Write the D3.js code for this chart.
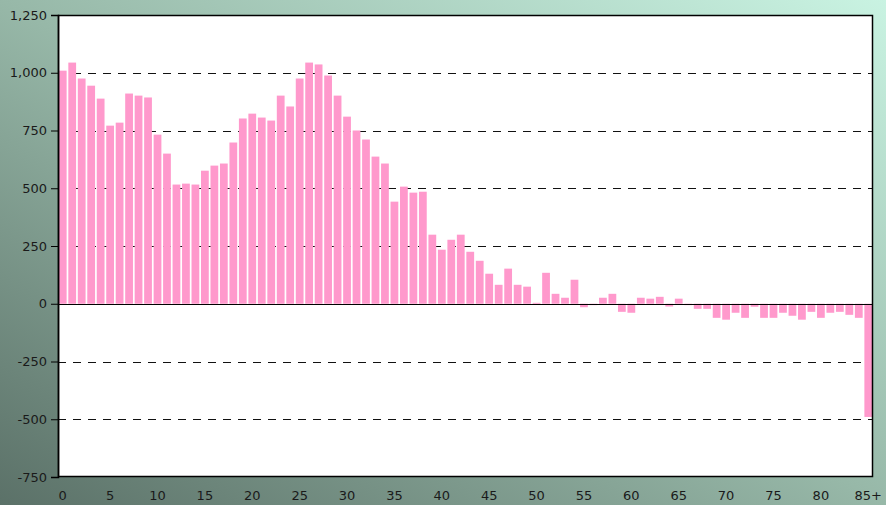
<!DOCTYPE html>
<html>
<head>
<meta charset="utf-8">
<script src="https://cdn.jsdelivr.net/npm/d3@7"></script>
<style>
  html, body { margin: 0; padding: 0; }
  body { width: 886px; height: 505px; overflow: hidden; }
  svg { display: block; }
</style>
</head>
<body>
<svg id="chart" width="886" height="505"></svg>
<script>
const categories = Array.from({length: 86}, (_, i) => i === 85 ? "85+" : String(i));
const values = [
  1009, 1044, 975, 944, 888, 771, 784, 910, 901, 893,
  732, 650, 516, 520, 516, 576, 598, 607, 698, 802,
  823, 806, 793, 901, 854, 975, 1044, 1036, 988, 901,
  810, 750, 711, 637, 607, 442, 507, 481, 485, 299,
  234, 277, 299, 225, 186, 130, 82, 152, 82, 74,
  4, 134, 43, 26, 104, -15, -6, 26, 43, -35,
  -39, 26, 22, 30, -12, 22, -6, -22, -22, -61,
  -69, -39, -61, -13, -61, -61, -39, -52, -69, -35,
  -61, -39, -35, -48, -61, -490
];
const yTicks = [-750, -500, -250, 0, 250, 500, 750, 1000, 1250];
const xTickLabels = ["0","5","10","15","20","25","30","35","40","45","50","55","60","65","70","75","80","85+"];

const W = 886, H = 505;
const m = {left: 58, right: 13, top: 15, bottom: 28};
const svg = d3.select("#chart");

const defs = svg.append("defs");
const grad = defs.append("linearGradient").attr("id", "bg")
  .attr("x1", "0%").attr("y1", "100%").attr("x2", "100%").attr("y2", "0%");
grad.append("stop").attr("offset", "0%").attr("stop-color", "#5b7168");
grad.append("stop").attr("offset", "50%").attr("stop-color", "#97b8a8");
grad.append("stop").attr("offset", "100%").attr("stop-color", "#c9f3e2");
svg.append("rect").attr("width", W).attr("height", H).attr("fill", "url(#bg)");

const x = d3.scaleBand().domain(categories)
  .range([m.left, W - m.right]).paddingInner(0.18).paddingOuter(0.09);
const y = d3.scaleLinear().domain([-750, 1250]).range([H - m.bottom, m.top]);

const g = svg.append("g");
g.append("rect").attr("x", m.left).attr("y", m.top)
  .attr("width", W - m.left - m.right).attr("height", H - m.top - m.bottom)
  .attr("fill", "#ffffff");

// gridlines
g.append("g").selectAll("line")
  .data(yTicks.filter(d => d !== 0 && d !== -750 && d !== 1250))
  .join("line")
  .attr("x1", m.left).attr("x2", W - m.right)
  .attr("y1", d => Math.round(y(d)) + 0.5).attr("y2", d => Math.round(y(d)) + 0.5)
  .attr("stroke", "#111").attr("stroke-width", 1).attr("stroke-dasharray", "8,7");

// bars
g.append("g").selectAll("rect").data(values).join("rect")
  .attr("x", (d, i) => x(categories[i]))
  .attr("width", x.bandwidth())
  .attr("y", d => y(Math.max(0, d)))
  .attr("height", d => Math.abs(y(d) - y(0)))
  .attr("fill", "#ff99cc");

// zero line
g.append("line").attr("x1", m.left).attr("x2", W - m.right)
  .attr("y1", Math.round(y(0)) + 0.5).attr("y2", Math.round(y(0)) + 0.5)
  .attr("stroke", "#000").attr("stroke-width", 1);

// frame
g.append("rect").attr("x", m.left + 0.5).attr("y", m.top + 0.5)
  .attr("width", W - m.left - m.right - 1).attr("height", H - m.top - m.bottom - 1)
  .attr("fill", "none").attr("stroke", "#000").attr("stroke-width", 1.5);

// y axis
const fmt = d3.format(",");
const yAxis = d3.axisLeft(y).tickValues(yTicks).tickSize(7).tickPadding(4)
  .tickFormat(d => fmt(d).replace("\u2212", "-"));
const ya = svg.append("g").attr("transform", `translate(${m.left},0)`).call(yAxis);
ya.select(".domain").attr("stroke", "#000").attr("stroke-width", 1.5);
ya.selectAll(".tick line").attr("stroke", "#000");
ya.selectAll("text").attr("font-family", "'DejaVu Sans', Verdana, sans-serif")
  .attr("font-size", 13).attr("fill", "#1a1a1a");

// x axis
const xAxis = d3.axisBottom(x)
  .tickValues(categories.filter((c, i) => i % 5 === 0))
  .tickSize(0).tickPadding(14);
const xa = svg.append("g").attr("transform", `translate(0,${H - m.bottom})`).call(xAxis);
xa.select(".domain").remove();
xa.selectAll("text").attr("font-family", "'DejaVu Sans', Verdana, sans-serif")
  .attr("font-size", 13).attr("fill", "#1a1a1a");
</script>
</body>
</html>
